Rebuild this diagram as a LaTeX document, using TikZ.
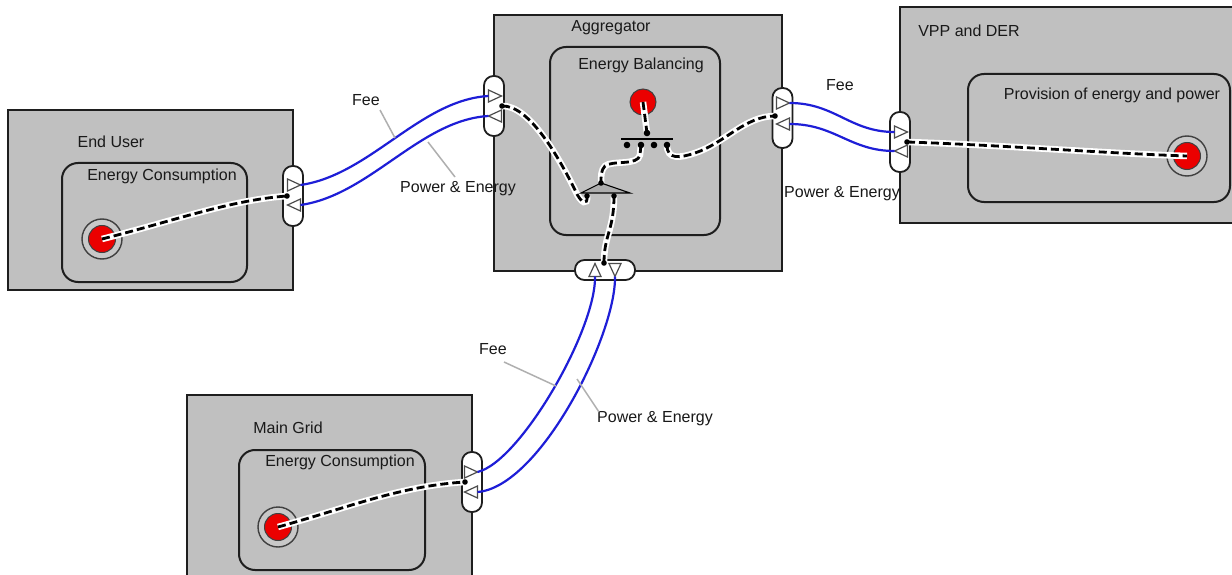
\documentclass[tikz,border=0pt]{standalone}
\usepackage{fontspec}
\setmainfont{Liberation Sans}
\definecolor{boxgray}{RGB}{192,192,192}
\definecolor{edge}{RGB}{30,30,30}
\definecolor{flowblue}{RGB}{30,30,215}
\definecolor{dotred}{RGB}{235,0,0}
\definecolor{leadgray}{RGB}{175,175,175}
\definecolor{ringfill}{RGB}{200,200,200}
\begin{document}
\begin{tikzpicture}[x=1pt,y=-1pt,
  lbl/.style={font=\fontsize{16}{18}\selectfont, text=black!90, inner sep=0pt},
  outerbox/.style={draw=edge, line width=2, fill=boxgray, inner sep=0pt},
  innerbox/.style={draw=edge, line width=2, fill=boxgray, rounded corners=16, inner sep=0pt},
  portv/.style={draw=edge, line width=1.8, fill=white, rounded corners=9.5, minimum width=20, minimum height=60, inner sep=0pt},
  porth/.style={draw=edge, line width=1.8, fill=white, rounded corners=9.5, minimum width=60, minimum height=20, inner sep=0pt},
  tri/.style={draw=black!70, line width=1.2, fill=white},
  flow/.style={draw=flowblue, line width=2.2},
  lead/.style={draw=leadgray, line width=1.5},
  dl/.style={draw=black, line width=2.8, dash pattern=on 8pt off 4pt, preaction={draw=white, line width=6.5, solid}},
  ring/.style={circle, draw=black!75, line width=1.4, fill=ringfill, minimum size=40, inner sep=0pt},
  reddot/.style={circle, draw=black!75, line width=1, fill=dotred, minimum size=27, inner sep=0pt},
  trir/.pic={\path[tri] (-6.5,-6)--(6.5,0)--(-6.5,6)--cycle;},
  tril/.pic={\path[tri] (6.5,-6)--(-6.5,0)--(6.5,6)--cycle;},
  triu/.pic={\path[tri] (0,-6.5)--(6,6.5)--(-6,6.5)--cycle;},
  trid/.pic={\path[tri] (0,6.5)--(6,-6.5)--(-6,-6.5)--cycle;},
]
\useasboundingbox (0,0) rectangle (1232,575);
\fill[white] (0,0) rectangle (1232,575);

% ---- outer boxes
\node[outerbox, minimum width=285, minimum height=180] (eu) at (150.5,200) {};
\node[outerbox, minimum width=288, minimum height=256] (ag) at (638,143) {};
\node[outerbox, minimum width=340, minimum height=216] (vpp) at (1070,115) {};
\node[outerbox, minimum width=285, minimum height=205] (mg) at (329.5,497.5) {};

% ---- inner boxes
\node[innerbox, minimum width=185, minimum height=119] (euIn) at (154.5,222.5) {};
\node[innerbox, minimum width=170, minimum height=188] (agIn) at (635,141) {};
\node[innerbox, minimum width=262, minimum height=128] (vppIn) at (1099,138) {};
\node[innerbox, minimum width=186, minimum height=120] (mgIn) at (332,510) {};

% ---- box labels
\node[lbl] (tEU) at (111,142) {End User};
\node[lbl] (tEUc) at (162,176) {Energy Consumption};
\node[lbl] (tAG) at (611,28) {Aggregator};
\node[lbl] (tAGb) at (641,65) {Energy Balancing};
\node[lbl] (tV) at (969,31) {VPP and DER};
\node[lbl] (tVp) at (1112,95) {Provision of energy and power};
\node[lbl] (tMG) at (288,428) {Main Grid};
\node[lbl] (tMGc) at (340,462) {Energy Consumption};

% ---- ports
\node[portv] (pEU) at (293,196) {};
\node[portv] (pAL) at (494,106) {};
\node[portv] (pAR) at (782.5,118) {};
\node[portv] (pV) at (900,142) {};
\node[porth] (pB) at (605,270) {};
\node[portv] (pMG) at (472,482) {};

% ---- rings and red dots
\node[ring] (ringEU) at (102,239) {};
\node[reddot] (redEU) at (102,239) {};
\node[ring] (ringV) at (1187,156) {};
\node[reddot] (redV) at (1187,156) {};
\node[ring] (ringMG) at (278,527) {};
\node[reddot] (redMG) at (278,527) {};
\node[reddot, minimum size=26] (redAG) at (643,102) {};

% ---- named points
\coordinate (dEU) at (287,196);
\coordinate (dAL) at (502,106);
\coordinate (dAR) at (775,116);
\coordinate (dV) at (907,142);
\coordinate (dB) at (604,263);
\coordinate (dMG) at (465,482);
\coordinate (barTop) at (647,133);
\coordinate (barL) at (621,139);
\coordinate (barR) at (673,139);
\coordinate (b1) at (627,145);
\coordinate (b2) at (641,145);
\coordinate (b3) at (654,145);
\coordinate (b4) at (667,145);
\coordinate (fkA) at (601,183);
\coordinate (fkBL) at (581,193);
\coordinate (fkBR) at (630,193);
\coordinate (fkL) at (587,196);
\coordinate (fkR) at (614,196);

% ---- dashed item flows
\draw[dl] (redEU.center) .. controls (170,222) and (230,200) .. (dEU);
\draw[dl] (redMG.center) .. controls (350,507) and (400,486) .. (dMG);
\draw[dl] (dV) .. controls (1000,145) and (1100,153) .. (redV.center);
\draw[dl] (redAG.center) -- (barTop);
\draw[dl] (dAL) .. controls (530,105) and (560,160) .. (575,190) .. controls (581,204) and (588,206) .. (fkL);
\draw[dl] (b2) -- (640,155) .. controls (638,166) and (612,160) .. (605,166) .. controls (601,170) and (601,176) .. (fkA);
\draw[dl] (b4) .. controls (667,160) and (680,158) .. (695,153) .. controls (725,143) and (745,116) .. (dAR);
\draw[dl] (fkR) .. controls (614,230) and (604,235) .. (dB);

% ---- fork / bar
\draw[fill=boxgray!90!black, draw=black, line width=1.1] (fkA) -- (fkBR) -- (fkBL) -- cycle;
\draw[black, line width=1.5] (barL) -- (barR);

% ---- dots
\foreach \p in {dEU,dAL,dAR,dV,dB,dMG,fkA,fkL,fkR}
  \fill[black] (\p) circle (2.8);
\foreach \p in {barTop,b1,b2,b3,b4}
  \fill[black] (\p) circle (3.3);

% ---- port triangles
\pic at (294,185) {trir};
\pic at (294,205) {tril};
\pic at (495,96) {trir};
\pic at (495,116) {tril};
\pic at (783,103) {trir};
\pic at (783,124) {tril};
\pic at (901,132) {trir};
\pic at (901,151) {tril};
\pic at (595,270) {triu};
\pic at (615,270) {trid};
\pic at (471,472) {trir};
\pic at (471,492) {tril};

% ---- flow line end points
\coordinate (euF) at (300.5,185);
\coordinate (euP) at (300.5,205);
\coordinate (alF) at (488.5,96);
\coordinate (alP) at (488.5,116);
\coordinate (arF) at (789.5,103);
\coordinate (arP) at (789.5,124);
\coordinate (vF) at (894.5,132);
\coordinate (vP) at (894.5,151);
\coordinate (bF) at (595,276.5);
\coordinate (bP) at (615,276.5);
\coordinate (mF) at (477.5,472);
\coordinate (mP) at (477.5,492);

% ---- blue flows
\draw[flow] (euF) .. controls (370,175) and (420,100) .. (alF);
\draw[flow] (alP) .. controls (420,120) and (370,195) .. (euP);
\draw[flow] (arF) .. controls (835,103) and (850,132) .. (vF);
\draw[flow] (vP) .. controls (850,151) and (835,124) .. (arP);
\draw[flow] (bF) .. controls (596,330) and (520,462) .. (mF);
\draw[flow] (bP) .. controls (616,335) and (540,487) .. (mP);

% ---- flow labels and leaders
\node[lbl] (fL) at (366,100) {Fee};
\node[lbl] (peL) at (458,189) {Power \& Energy};
\node[lbl] (fR) at (840,85) {Fee};
\node[lbl] (peR) at (842,194) {Power \& Energy};
\node[lbl] (fB) at (493,349) {Fee};
\node[lbl] (peB) at (655,419) {Power \& Energy};
\coordinate (lfL) at (395,138);
\coordinate (lpL) at (428,142);
\coordinate (lfB) at (556,386);
\coordinate (lpB) at (577,379);
\draw[lead] (380,110) -- (lfL);
\draw[lead] (455,177) -- (lpL);
\draw[lead] (504,362) -- (lfB);
\draw[lead] (599,412) -- (lpB);
\end{tikzpicture}
\end{document}
